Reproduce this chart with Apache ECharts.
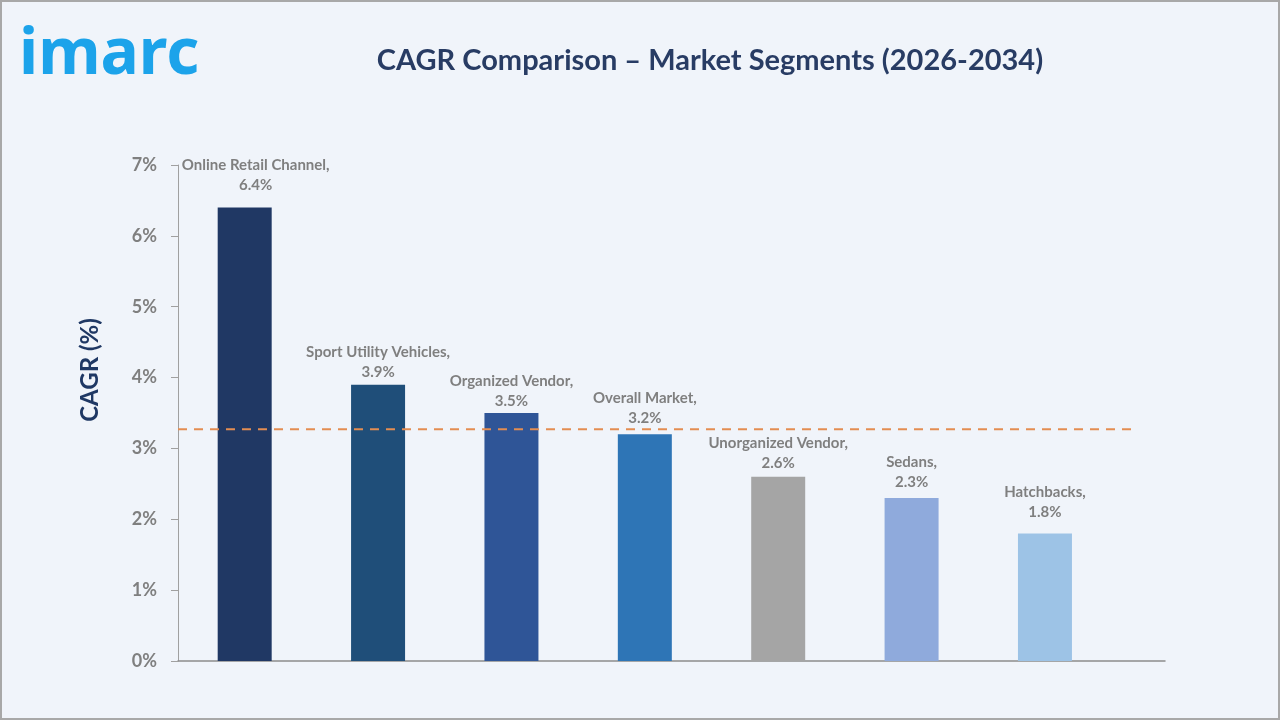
<!DOCTYPE html>
<html>
<head>
<meta charset="utf-8">
<script src="https://cdn.jsdelivr.net/npm/echarts@6/dist/echarts.min.js"></script>
<style>
  html, body { margin: 0; padding: 0; background: #F0F4FA; }
  #frame { width: 1280px; height: 720px; box-sizing: border-box; border: 2px solid #A8A8A8; position: relative; background: #F0F4FA; }
  #chart { position: absolute; left: -2px; top: -2px; width: 1280px; height: 720px; }
</style>
</head>
<body>
<div id="frame"><div id="chart"></div></div>
<script>
const categories = ['Online Retail Channel', 'Sport Utility Vehicles', 'Organized Vendor', 'Overall Market', 'Unorganized Vendor', 'Sedans', 'Hatchbacks'];
const cagrValues = [6.4, 3.9, 3.5, 3.2, 2.6, 2.3, 1.8];
const referenceLine = 3.27;
const referenceLineSpan = [-0.74, 6.67];
const yTicks = [0, 1, 2, 3, 4, 5, 6, 7];

// styling: bar colours and per-label nudges (pixels) as placed in the original
const palette = ['#203864', '#1F4E79', '#2F5597', '#2E75B6', '#A5A5A5', '#8FAADC', '#9DC3E6'];
const labelNudges = [[11, -8], [0, 1], [0, 2], [0, -2], [0, 0], [0, -2], [0, -7]];

const chart = echarts.init(document.getElementById('chart'));
const FONT = 'Lato';

const barData = categories.map((name, i) => ({
  name: name,
  value: [i, cagrValues[i]],
  itemStyle: { color: palette[i] },
  label: { offset: labelNudges[i] }
}));

chart.setOption({
  backgroundColor: 'transparent',
  animation: false,
  title: {
    text: 'CAGR Comparison – Market Segments (2026-2034)',
    left: 705, top: 41, textAlign: 'center',
    textStyle: { fontFamily: FONT, fontSize: 29, fontWeight: 'bold', color: '#283C64' }
  },
  graphic: [
    { type: 'text', left: 19, top: 24, style: { text: 'imarc', fontFamily: 'Noto Sans', fontSize: 64, fontWeight: 'bold', fill: '#1CA3EA' } },
    { type: 'text', x: 90, y: 370, rotation: Math.PI / 2, style: { text: 'CAGR (%)', fontFamily: FONT, fontSize: 24, fontWeight: 'bold', fill: '#1F3864', align: 'center', verticalAlign: 'middle' } }
  ],
  grid: { left: 178, right: 115, top: 165, bottom: 59, containLabel: false },
  xAxis: {
    type: 'value', min: -0.5, max: 6.9,
    axisLine: { show: true, onZero: false, lineStyle: { color: '#8C8C8C', width: 1.5 } },
    axisTick: { show: false }, axisLabel: { show: false }, splitLine: { show: false }
  },
  yAxis: {
    type: 'value', min: yTicks[0], max: yTicks[yTicks.length - 1], interval: 1,
    axisLine: { show: true, onZero: false, lineStyle: { color: '#A0A0A0', width: 1 } },
    axisTick: { show: true, length: 7, lineStyle: { color: '#A0A0A0' } },
    splitLine: { show: false },
    axisLabel: { margin: 21, formatter: v => v + '%', fontFamily: FONT, fontSize: 18, fontWeight: 'bold', color: '#7F7F7F' }
  },
  series: [{
    type: 'bar',
    barWidth: 54,
    data: barData,
    z: 2,
    label: {
      show: true, position: 'top', distance: 4,
      formatter: p => p.name + ',\n' + p.value[1].toFixed(1) + '%',
      fontFamily: FONT, fontSize: 15, fontWeight: 'bold', color: '#7F7F7F', lineHeight: 20, align: 'center'
    }
  }, {
    type: 'line',
    clip: false,
    silent: true,
    symbol: 'none',
    z: 3,
    lineStyle: { color: '#E38D52', type: [9, 7], width: 2 },
    data: referenceLineSpan.map(x => [x, referenceLine])
  }]
});
</script>
</body>
</html>
